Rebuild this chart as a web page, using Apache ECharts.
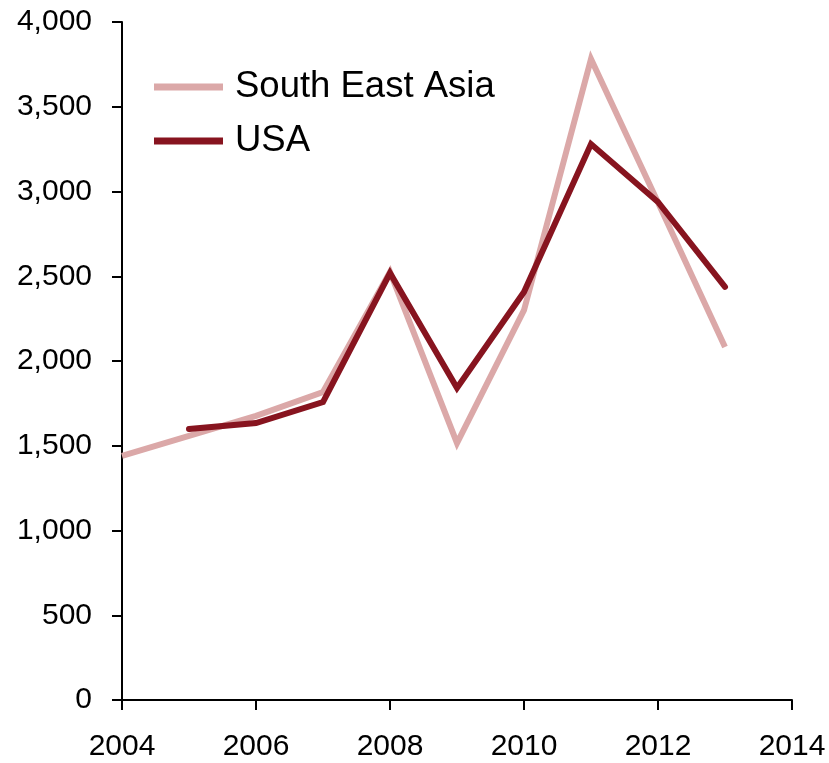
<!DOCTYPE html>
<html>
<head>
<meta charset="utf-8">
<script src="https://cdn.jsdelivr.net/npm/echarts@6/dist/echarts.min.js"></script>
<style>
  html, body { margin: 0; padding: 0; background: #ffffff; }
  #chart { width: 829px; height: 763px; }
</style>
</head>
<body>
<div id="chart"></div>
<script>
// Annual figures, 2004–2013
var years = [2004, 2005, 2006, 2007, 2008, 2009, 2010, 2011, 2012, 2013];
var southEastAsia = [1440, 1558, 1676, 1817, 2525, 1516, 2300, 3782, 2935, 2083];
var usa = [null, 1599, 1634, 1758, 2519, 1841, 2407, 3280, 2938, 2437];
var seriesNames = ['South East Asia', 'USA'];
var xTicks = { min: 2004, max: 2014, interval: 2 };
var yTicks = { min: 0, max: 4000, interval: 500 };

function pairs(values) {
  var out = [];
  for (var i = 0; i < years.length; i++) {
    if (values[i] !== null) out.push([years[i], values[i]]);
  }
  return out;
}

var font = 'Liberation Sans, Arial, sans-serif';
var chart = echarts.init(document.getElementById('chart'), null, { renderer: 'canvas' });

chart.setOption({
  animation: false,
  backgroundColor: '#ffffff',
  grid: { left: 122, right: 37, top: 22, bottom: 63, containLabel: false },
  legend: {
    orient: 'vertical',
    left: 154,
    top: 67,
    padding: 0,
    itemWidth: 69,
    itemHeight: 7,
    itemGap: 14,
    icon: 'rect',
    textStyle: { fontFamily: font, fontSize: 36.5, color: '#000', lineHeight: 40, padding: [0, 0, 0, 7] },
    data: seriesNames
  },
  xAxis: {
    type: 'value',
    min: xTicks.min,
    max: xTicks.max,
    interval: xTicks.interval,
    splitLine: { show: false },
    axisLine: { show: true, onZero: false, lineStyle: { color: '#000', width: 2 } },
    axisTick: { show: true, inside: false, length: 10, lineStyle: { color: '#000', width: 2 } },
    axisLabel: {
      fontFamily: font, fontSize: 30, color: '#000', margin: 32,
      formatter: function (v) { return String(v); }
    }
  },
  yAxis: {
    type: 'value',
    min: yTicks.min,
    max: yTicks.max,
    interval: yTicks.interval,
    splitLine: { show: false },
    axisLine: { show: true, lineStyle: { color: '#000', width: 2 } },
    axisTick: { show: true, inside: false, length: 10, lineStyle: { color: '#000', width: 2 } },
    axisLabel: {
      fontFamily: font, fontSize: 30, color: '#000', margin: 30,
      formatter: function (v) { return v.toLocaleString('en-US'); }
    }
  },
  series: [
    {
      name: seriesNames[0],
      type: 'line',
      data: pairs(southEastAsia),
      showSymbol: false,
      symbol: 'none',
      color: '#DBA8A8',
      lineStyle: { color: '#DBA8A8', width: 6, cap: 'butt', join: 'miter' },
      z: 2
    },
    {
      name: seriesNames[1],
      type: 'line',
      data: pairs(usa),
      showSymbol: false,
      symbol: 'none',
      color: '#87141F',
      lineStyle: { color: '#87141F', width: 6, cap: 'round', join: 'miter' },
      z: 3
    }
  ]
});
</script>
</body>
</html>
